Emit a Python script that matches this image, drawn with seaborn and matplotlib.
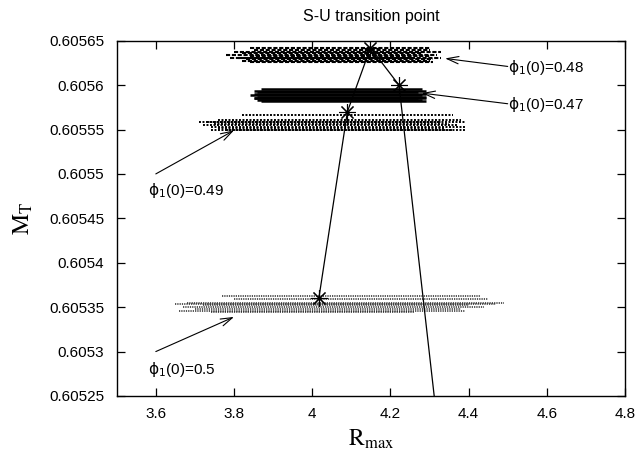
import matplotlib
matplotlib.use("Agg")
import matplotlib.pyplot as plt
import seaborn as sns
import pandas as pd
from matplotlib.ticker import FuncFormatter

# ---------------- data ----------------
title = "S-U transition point"
x_ticks = [3.6, 3.8, 4.0, 4.2, 4.4, 4.6, 4.8]
y_ticks = [0.60525, 0.6053, 0.60535, 0.6054, 0.60545, 0.6055, 0.60555, 0.6056, 0.60565]

# transition points (phi_1(0) values and their positions); last point lies below the frame
phi_values = [0.50, 0.49, 0.48, 0.47, 0.46]
trans_R = [4.017, 4.090, 4.149, 4.222, 4.330]
trans_M = [0.605360, 0.605570, 0.605642, 0.605600, 0.605180]
star_count = 4

# bands of curves: M level, R start, R end
band48_M = [0.605642, 0.605639, 0.605637, 0.605636, 0.605634, 0.605633, 0.605631, 0.605630, 0.605629, 0.605627, 0.605626]
band48_R0 = [3.84, 3.85, 3.80, 3.82, 3.78, 3.84, 3.79, 3.81, 3.83, 3.82, 3.84]
band48_R1 = [4.30, 4.30, 4.33, 4.28, 4.32, 4.30, 4.33, 4.26, 4.31, 4.30, 4.31]

band47_M = [0.605596, 0.605593, 0.605592, 0.605590, 0.605589, 0.605587, 0.605586, 0.605585, 0.605583, 0.605582]
band47_R0 = [3.87, 3.85, 3.86, 3.85, 3.84, 3.86, 3.85, 3.85, 3.86, 3.87]
band47_R1 = [4.28, 4.29, 4.27, 4.29, 4.28, 4.29, 4.27, 4.29, 4.28, 4.29]

band49_M = [0.605566, 0.605561, 0.605559, 0.605558, 0.605556, 0.605555, 0.605553, 0.605552, 0.605550, 0.605549]
band49_R0 = [3.82, 3.76, 3.71, 3.73, 3.75, 3.72, 3.74, 3.76, 3.74, 3.78]
band49_R1 = [4.36, 4.38, 4.33, 4.39, 4.35, 4.37, 4.39, 4.34, 4.39, 4.36]

band50_M = [0.605363, 0.605359, 0.605355, 0.605353, 0.605352, 0.605350, 0.605348, 0.605346, 0.605344]
band50_R0 = [3.77, 3.80, 3.68, 3.65, 3.72, 3.67, 3.70, 3.66, 3.74]
band50_R1 = [4.43, 4.45, 4.49, 4.47, 4.40, 4.44, 4.38, 4.39, 4.26]

# annotation labels: text, arrow tail, arrow head, label position
ann_text = [r"$\mathrm{\phi}_1$(0)=0.48", r"$\mathrm{\phi}_1$(0)=0.47",
            r"$\mathrm{\phi}_1$(0)=0.49", r"$\mathrm{\phi}_1$(0)=0.5"]
ann_tail_R = [4.50, 4.50, 3.60, 3.60]
ann_tail_M = [0.605621, 0.605579, 0.605500, 0.605300]
ann_head_R = [4.34, 4.28, 3.80, 3.80]
ann_head_M = [0.605630, 0.605591, 0.605549, 0.605339]
ann_label_R = [4.50, 4.50, 3.58, 3.58]
ann_label_M = [0.605620, 0.605578, 0.605481, 0.605280]

# ---------------- plotting ----------------
sns.set_theme(style="ticks")
plt.rcParams["font.family"] = ["Liberation Sans", "DejaVu Sans"]
plt.rcParams["mathtext.fontset"] = "dejavusans"
plt.rcParams["text.color"] = "black"
plt.rcParams["axes.labelcolor"] = "black"

fig = plt.figure(figsize=(6.36, 4.51), dpi=100)
ax = fig.add_axes([0.1835, 0.122, 0.7992, 0.7878])

bands = [
    (band48_M, band48_R0, band48_R1, dict(colors="black", linewidths=1.5, linestyles=[(0, (2.0, 0.8))])),
    (band47_M, band47_R0, band47_R1, dict(colors="black", linewidths=1.8, linestyles="solid")),
    (band49_M, band49_R0, band49_R1, dict(colors="black", linewidths=1.4, linestyles=[(0, (1.0, 0.8))])),
    (band50_M, band50_R0, band50_R1, dict(colors="0.15", linewidths=1.1, linestyles=[(0, (0.8, 0.7))])),
]
for M, R0, R1, style in bands:
    ax.hlines(M, R0, R1, **style)

df = pd.DataFrame({"R": trans_R, "M": trans_M, "phi": phi_values})
sns.lineplot(data=df, x="R", y="M", sort=False, estimator=None, color="black",
             linewidth=0.9, ax=ax)
stars = df.iloc[:star_count]
ax.plot(stars["R"], stars["M"], linestyle="none", marker=(8, 2, 0), markersize=12,
        markeredgecolor="black", markeredgewidth=0.8, color="black")

for t, tr, tm, hr, hm, lr, lm in zip(ann_text, ann_tail_R, ann_tail_M, ann_head_R,
                                      ann_head_M, ann_label_R, ann_label_M):
    ax.annotate("", xy=(hr, hm), xytext=(tr, tm),
                arrowprops=dict(arrowstyle="->,head_length=0.7,head_width=0.22",
                                color="black", lw=0.8, shrinkA=0, shrinkB=0))
    ax.text(lr, lm, t, ha="left", va="center", fontsize=11, color="black")

ax.set_xlim(3.5, 4.8)
ax.set_ylim(0.60525, 0.60565)
ax.set_xticks(x_ticks)
ax.set_yticks(y_ticks)
fmt = FuncFormatter(lambda v, p: "%g" % v)
ax.xaxis.set_major_formatter(fmt)
ax.yaxis.set_major_formatter(fmt)
ax.tick_params(direction="in", length=6, width=0.9, top=True, right=True,
               labelsize=11, colors="black", pad=8)
ax.tick_params(axis="y", pad=9)
for s in ax.spines.values():
    s.set_visible(True)
    s.set_linewidth(1.0)
    s.set_color("black")

ax.set_title(title, fontsize=11.5, pad=14, color="black")
ax.set_xlabel(r"$\mathrm{R}_{\mathrm{max}}$", fontsize=17, labelpad=5, math_fontfamily="stix")
ax.set_ylabel(r"$\mathrm{M}_{\mathrm{T}}$", fontsize=17, labelpad=10, math_fontfamily="stix")
ax.grid(False)

fig.savefig("out.png", dpi=100)
